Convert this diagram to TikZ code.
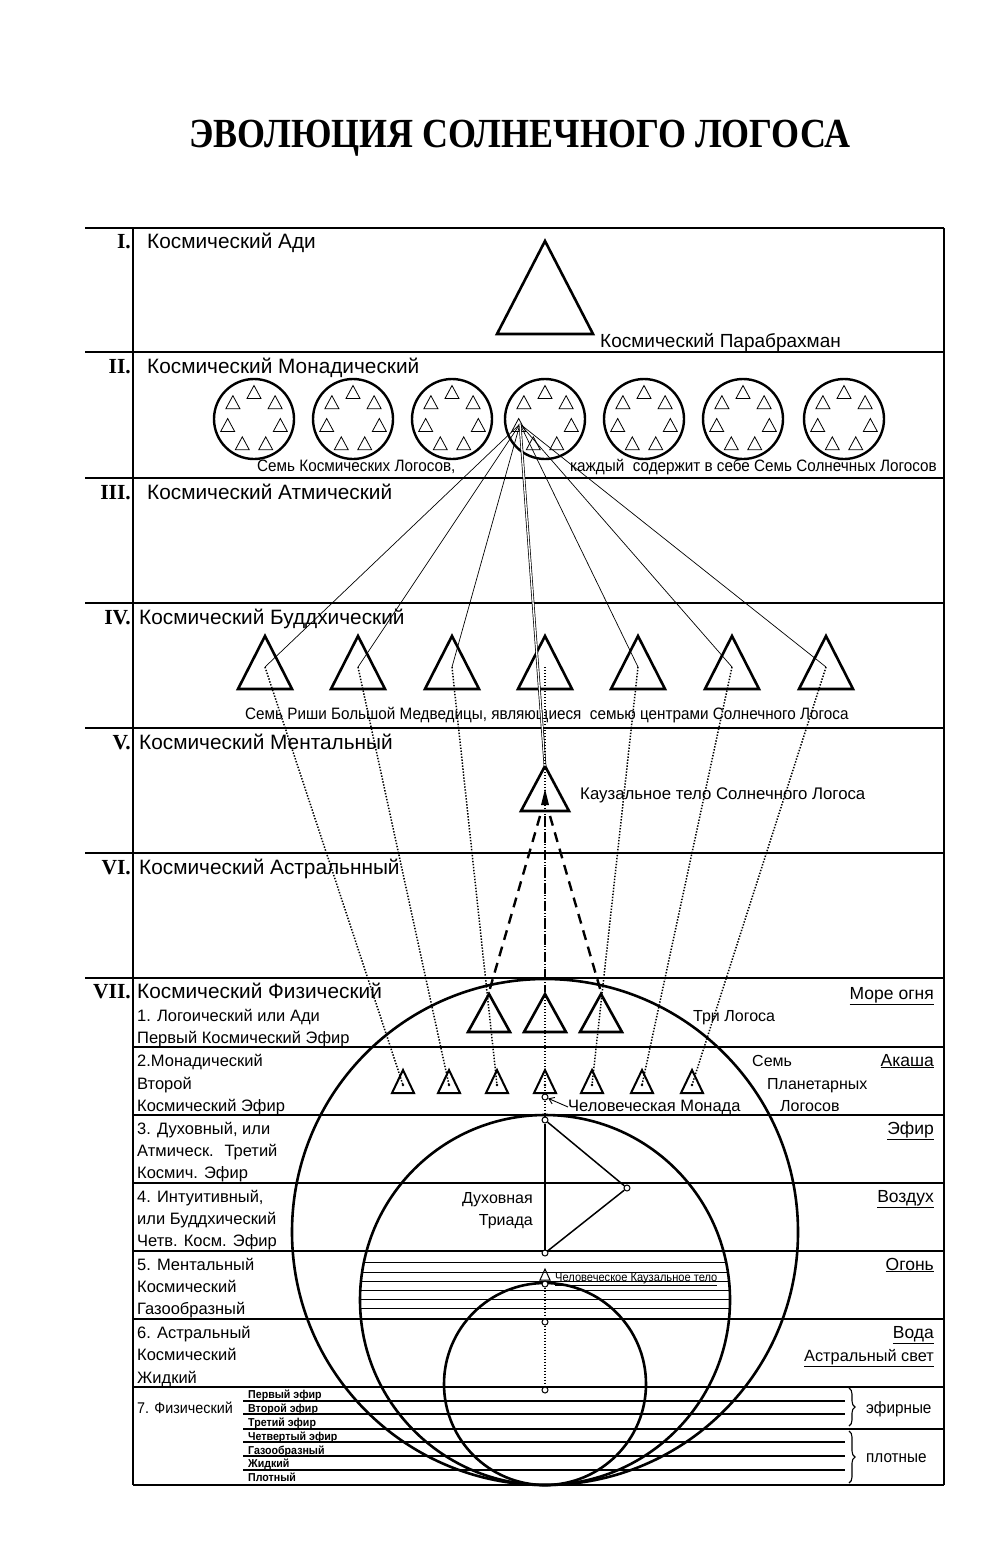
\documentclass[tikz,border=0pt]{standalone}
\usepackage{fontspec}
\setmainfont{Liberation Sans}
\newfontfamily\titlefont{Liberation Serif}
\newfontfamily\narrowfont[FakeStretch=0.925]{Liberation Sans}
\usetikzlibrary{decorations.pathreplacing,arrows.meta}
\newcommand\trig[5]{\draw[#5] (#1-#4,#3) -- (#1,#2) -- (#1+#4,#3) -- cycle;}
\begin{document}
\begin{tikzpicture}[x=1pt,y=-1pt,
  frame/.style={line width=2.1pt},
  subline/.style={line width=1.2pt},
  bigtri/.style={line width=2.6pt, line join=miter},
  smalltri/.style={line width=2pt, line join=miter},
  mini/.style={line width=0.8pt},
  ray/.style={line width=0.7pt},
  dots/.style={line width=1.5pt, dash pattern=on 1.4pt off 1.6pt},
  dashline/.style={line width=2.4pt, dash pattern=on 10pt off 7pt},
  ring/.style={line width=2.6pt},
  dotc/.style={circle, draw, fill=white, inner sep=0pt, minimum size=6pt, line width=1pt},
  romlab/.style={anchor=base east, inner sep=0pt, font=\titlefont\bfseries\fontsize{21.5}{23}\selectfont},
  rowlab/.style={anchor=base west, inner sep=0pt, font=\fontsize{20.8}{23}\selectfont},
  sublab/.style={anchor=base west, inner sep=0pt, font=\fontsize{16.5}{18}\selectfont},
  elem/.style={anchor=base east, inner sep=0pt, font=\fontsize{17.5}{19}\selectfont},
  note/.style={anchor=base west, inner sep=0pt, font=\fontsize{16}{18}\selectfont},
  narrow/.style={anchor=base west, inner sep=0pt, font=\narrowfont\fontsize{16.5}{18}\selectfont},
  tinylab/.style={anchor=base west, inner sep=0pt, font=\narrowfont\bfseries\fontsize{11.5}{12}\selectfont}
]
\path[use as bounding box] (0,0) rectangle (1000,1562);

% title
\node[font=\titlefont\bfseries\fontsize{36}{40}\selectfont, anchor=base, inner sep=0pt] (title) at (520,148) {\scalebox{1}[1.15]{ЭВОЛЮЦИЯ СОЛНЕЧНОГО ЛОГОСА}};

% frame
\foreach \y in {228,352,478,603,728,853,978} \draw[frame] (85,\y) -- (944,\y);
\draw[frame] (133,228) -- (133,1485);
\draw[frame] (944,228) -- (944,1485);
\foreach \y in {1047,1115,1183,1251,1319,1387,1485} \draw[frame] (133,\y) -- (944,\y);
\foreach \y in {1401,1414,1442,1456,1470} \draw[subline] (243,\y) -- (845,\y);
\draw[subline] (243,1429) -- (944,1429);

% row labels
\node[romlab] (rI) at (131,248) {I.};
\node[rowlab] (lI) at (147,248) {Космический Ади};
\node[romlab] (rII) at (131,373) {II.};
\node[rowlab] (lII) at (147,373) {Космический Монадический};
\node[romlab] (rIII) at (131,499) {III.};
\node[rowlab] (lIII) at (147,499) {Космический Атмический};
\node[romlab] (rIV) at (131,624) {IV.};
\node[rowlab] (lIV) at (139,624) {Космический Буддхический};
\node[romlab] (rV) at (131,749) {V.};
\node[rowlab] (lV) at (139,749) {Космический Ментальный};
\node[romlab] (rVI) at (131,874) {VI.};
\node[rowlab] (lVI) at (139,874) {Космический Астральнный};
\node[romlab] (rVII) at (131,998) {VII.};
\node[rowlab] (lVII) at (137,998) {Космический Физический};

% sub labels of VII
\node[sublab] (s1a) at (137,1021) {1. Логоический или Ади};
\node[sublab] (s1b) at (137,1043) {Первый Космический Эфир};
\node[sublab] (s2a) at (137,1066) {2.Монадический};
\node[sublab] (s2b) at (137,1089) {Второй};
\node[sublab] (s2c) at (137,1111) {Космический Эфир};
\node[sublab] (s3a) at (137,1134) {3. Духовный, или};
\node[sublab] (s3b) at (137,1156) {Атмическ.~ Третий};
\node[sublab] (s3c) at (137,1178) {Космич. Эфир};
\node[sublab] (s4a) at (137,1202) {4. Интуитивный,};
\node[sublab] (s4b) at (137,1224) {или Буддхический};
\node[sublab] (s4c) at (137,1246) {Четв. Косм. Эфир};
\node[sublab] (s5a) at (137,1270) {5. Ментальный};
\node[sublab] (s5b) at (137,1292) {Космический};
\node[sublab] (s5c) at (137,1314) {Газообразный};
\node[sublab] (s6a) at (137,1338) {6. Астральный};
\node[sublab] (s6b) at (137,1360) {Космический};
\node[sublab] (s6c) at (137,1383) {Жидкий};
\node[narrow, font=\narrowfont\fontsize{15.5}{17}\selectfont] (s7a) at (137,1413) {7. Физический};
\node[tinylab] (t1) at (248,1398) {Первый эфир};
\node[tinylab] (t2) at (248,1412) {Второй эфир};
\node[tinylab] (t3) at (248,1426) {Третий эфир};
\node[tinylab] (t4) at (248,1440) {Четвертый эфир};
\node[tinylab] (t5) at (248,1454) {Газообразный};
\node[tinylab] (t6) at (248,1467) {Жидкий};
\node[tinylab] (t7) at (248,1481) {Плотный};

% element labels
\node[elem] (e1) at (934,999) {\underline{Море огня}};
\node[elem] (e2) at (934,1066) {\underline{Акаша}};
\node[elem] (e3) at (934,1134) {\underline{Эфир}};
\node[elem] (e4) at (934,1202) {\underline{Воздух}};
\node[elem] (e5) at (934,1270) {\underline{Огонь}};
\node[elem] (e6) at (934,1338) {\underline{Вода}};
\node[elem, font=\fontsize{16.3}{18}\selectfont] (e7) at (934,1361) {\underline{Астральный свет}};

% braces
\draw[decorate, decoration={brace, amplitude=6pt}, line width=1.1pt] (849,1388) -- (849,1426);
\draw[decorate, decoration={brace, amplitude=6pt}, line width=1.1pt] (849,1431) -- (849,1483);
\node[narrow] (ef) at (866,1413) {эфирные};
\node[narrow] (pl) at (866,1462) {плотные};

% big circles of VII
\draw[ring] (545,1232) circle[radius=253];
\draw[ring] (545,1300) circle[radius=185];
\draw[ring] (545,1384) circle[radius=101];
\begin{scope}
  \clip (545,1300) circle[radius=185];
  \foreach \y in {1262,1272,1281,1290,1299,1308} \draw[mini] (300,\y) -- (800,\y);
\end{scope}

% row I
\trig{545}{241}{334}{48}{bigtri}
\node[note, font=\fontsize{19}{21}\selectfont] (para) at (600,347) {Космический Парабрахман};

% row II circles
\foreach \i/\x in {1/254,2/353,3/452,4/545,5/644,6/743,7/844} {
  \node[circle, draw, line width=2.4pt, minimum size=80pt, inner sep=0pt] (cl\i) at (\x,419) {};
  \foreach \a in {90,141.43,192.86,244.29,295.71,347.14,38.57} {
    \begin{scope}[shift={({\x+27*cos(\a)},{419-27*sin(\a)})}]
      \draw[mini] (-7,6.5) -- (0,-6.5) -- (7,6.5) -- cycle;
    \end{scope}
  }
}
\coordinate (monad) at (520,424);
\node[narrow] (n2a) at (257,471) {Семь Космических Логосов,};
\node[narrow] (n2b) at (570,471) {каждый~ содержит в себе Семь Солнечных Логосов};

% row IV
\foreach \i/\x in {1/265,2/358,3/452,4/545,5/638,6/732,7/826} {
  \trig{\x}{636}{689}{27}{bigtri}
  \coordinate (r\i) at (\x,667);
}
\node[narrow] (n4) at (245,719) {Семь Риши Большой Медведицы, являющиеся~ семью центрами Солнечного Логоса};

% row V causal body
\trig{545}{766}{811}{24}{bigtri}
\coordinate (ctop) at (545,766);
\fill (541,805) -- (545,789) -- (549,805) -- cycle;
\node[note, font=\fontsize{16.8}{18}\selectfont] (caus) at (580,799) {Каузальное тело Солнечного Логоса};
\coordinate (cb1) at (540,816);
\coordinate (cb2) at (545,816);
\coordinate (cb3) at (550,816);

% three Logoi
\foreach \i/\x in {1/489,2/545,3/601} {
  \trig{\x}{994}{1032}{21}{bigtri}
  \coordinate (L\i) at (\x,992);
}
\node[note] (three) at (693,1021) {Три Логоса};

% seven planetary logoi
\foreach \i/\x in {1/403,2/449,3/497,4/545,5/592,6/642,7/692} {
  \trig{\x}{1070}{1093}{11}{smalltri}
  \coordinate (s\i) at (\x,1085);
  \fill (s\i) circle[radius=1.3];
}
\node[note] (sem) at (752,1066) {Семь};
\node[note] (plan) at (767,1089) {Планетарных};
\node[note] (logs) at (780,1111) {Логосов};

% rays from the cosmic logos
\foreach \i in {1,2,3,5,6,7} \draw[ray] (monad) -- (r\i);
\draw[line width=0.7pt, double, double distance=1.3pt] (monad) -- (ctop);
\foreach \i in {1,2,3,5,6,7} \draw[dots] (r\i) -- (s\i);
\draw[dashline] (cb1) -- (L1);
\draw[dashline] (cb2) -- (L2);
\draw[dashline] (cb3) -- (L3);

% human monad, triad
\node[dotc] (hm) at (545,1097) {};
\node[dotc] (ta) at (545,1120) {};
\node[dotc] (tb) at (627,1188) {};
\node[dotc] (tc) at (545,1253) {};
\node[dotc] (hc) at (545,1284) {};
\node[dotc] (pa) at (545,1322) {};
\node[dotc] (pb) at (545,1390) {};
\draw[dots] (r4) -- (hm);
\draw[dots] (hm) -- (ta);
\draw[line width=1.5pt] (ta) -- (tc);
\draw[line width=1.5pt] (ta) -- (tb);
\draw[line width=1.5pt] (tb) -- (tc);
\draw[dots] (hc) -- (pa);
\draw[dots] (pa) -- (pb);
\trig{545}{1269}{1280}{5}{line width=1pt}
\node[note, font=\fontsize{16.5}{18}\selectfont] (hmlab) at (568,1111) {Человеческая Монада};
\draw[line width=0.9pt, -{Straight Barb[length=5pt,width=7pt]}] (hmlab.west) -- (hm);
\node[note, anchor=base east] (dux) at (533,1203) {Духовная};
\node[note, anchor=base east] (tri) at (533,1225) {Триада};
\node[tinylab, font=\narrowfont\fontsize{12}{13}\selectfont] (hcl) at (555,1281) {\underline{Человеческое Каузальное тело}};
\end{tikzpicture}
\end{document}
